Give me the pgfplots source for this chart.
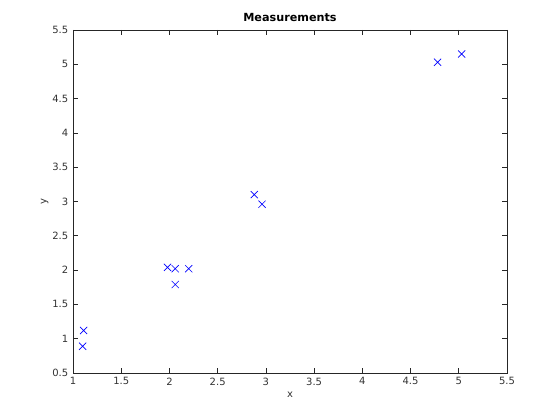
\documentclass[border=0pt]{standalone}
\usepackage{pgfplots}
\pgfplotsset{compat=1.18}
\usepackage{fontspec}
\setmainfont{DejaVu Sans}
\begin{document}
\begin{tikzpicture}[x=1pt,y=1pt]
\path[use as bounding box] (0,0) rectangle (420,315);
\begin{axis}[
  at={(54.75pt,35.25pt)}, anchor=south west,
  width=325.5pt, height=257.25pt, scale only axis,
  xmin=1, xmax=5.5, ymin=0.5, ymax=5.5,
  xtick={1,1.5,...,5.5}, ytick={0.5,1,...,5.5},
  tick align=inside, major tick length=3.5pt,
  axis line style={color=black!85, line width=0.5pt},
  every tick/.style={color=black!85, line width=0.5pt},
  tick label style={font=\fontsize{7.5}{9}\selectfont, color=black!80},
  /pgf/number format/assume math mode=true,
  /pgf/number format/fixed,
  title={\textbf{Measurements}},
  title style={font=\fontsize{8.4}{10}\selectfont, yshift=-3pt},
  xlabel={x}, ylabel={y},
  label style={font=\fontsize{7.5}{9}\selectfont, color=black!80},
  xlabel style={yshift=2pt}, ylabel style={yshift=-4pt},
]
\addplot[only marks, mark=x, mark size=3.8pt, color=blue, mark options={line width=0.5pt}] coordinates {
 (1.10,0.89) (1.11,1.12)
 (1.98,2.04) (2.06,2.02) (2.20,2.02) (2.06,1.79)
 (2.88,3.10) (2.96,2.96)
 (4.78,5.03) (5.03,5.15)
};
\end{axis}
\end{tikzpicture}
\end{document}
